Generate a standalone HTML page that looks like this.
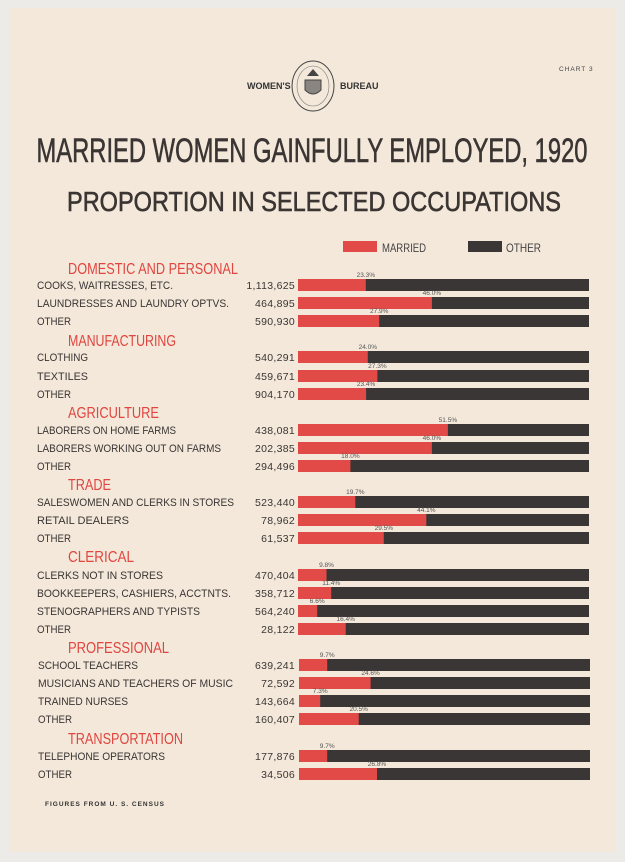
<!DOCTYPE html>
<html><head><meta charset="utf-8"><style>
html,body{margin:0;padding:0;background:#eceae6;}
svg{display:block}
text{font-family:"Liberation Sans Narrow","Liberation Sans",sans-serif;}
.l{font-size:11px;fill:#3a3533}
.n{font-size:10.5px;fill:#3a3533;text-anchor:end;letter-spacing:0.3px}
.h{font-size:16px;fill:#e0453f}
.p{font-size:6.5px;fill:#555;text-anchor:middle}
.d{fill:#3a3636}
.r{fill:#e24a48}
</style></head><body>
<svg width="625" height="862" viewBox="0 0 625 862" xmlns="http://www.w3.org/2000/svg">
<rect x="0" y="0" width="625" height="862" fill="#ecebe7"/>
<rect x="9" y="8" width="606" height="844" fill="#f3e8da"/>
<text x="559" y="71" font-size="6.5" fill="#444" font-family="Liberation Sans" letter-spacing="1">CHART 3</text>
<text x="247" y="89" font-size="9" font-weight="bold" fill="#333" font-family="Liberation Serif">WOMEN'S</text>
<text x="340" y="89" font-size="9" font-weight="bold" fill="#333" font-family="Liberation Serif">BUREAU</text>
<ellipse cx="313" cy="86" rx="21" ry="25" fill="none" stroke="#444" stroke-width="1"/>
<ellipse cx="313" cy="86" rx="16" ry="20" fill="none" stroke="#777" stroke-width="0.6"/>
<path d="M305 80 h16 v10 q-8 8 -16 0z" fill="#8a8580" stroke="#444" stroke-width="1"/>
<path d="M307 76 l6 -7 l6 7z" fill="#444"/>
<text x="312" y="162" text-anchor="middle" font-size="34" fill="#3a3533" stroke="#3a3533" stroke-width="0.6" textLength="551" lengthAdjust="spacingAndGlyphs">MARRIED WOMEN GAINFULLY EMPLOYED, 1920</text>
<text x="314" y="211" text-anchor="middle" font-size="28" fill="#3a3533" stroke="#3a3533" stroke-width="0.6" textLength="494" lengthAdjust="spacingAndGlyphs">PROPORTION IN SELECTED OCCUPATIONS</text>
<rect x="343" y="241" width="34" height="11" class="r"/>
<text x="382" y="252" font-size="12" fill="#444" textLength="44" lengthAdjust="spacingAndGlyphs">MARRIED</text>
<rect x="468" y="241" width="34" height="11" class="d"/>
<text x="506" y="252" font-size="12" fill="#444" textLength="35" lengthAdjust="spacingAndGlyphs">OTHER</text>

<text x="68" y="274" class="h" textLength="170" lengthAdjust="spacingAndGlyphs">DOMESTIC AND PERSONAL</text>
<text x="37" y="289" class="l" textLength="136" lengthAdjust="spacingAndGlyphs">COOKS, WAITRESSES, ETC.</text><text x="295" y="289" class="n">1,113,625</text>
<rect x="298" y="279" width="291" height="12" class="d"/><rect x="298" y="279" width="67.8" height="12" class="r"/><text x="365.8" y="277" class="p">23.3%</text>
<text x="37" y="307" class="l" textLength="192" lengthAdjust="spacingAndGlyphs">LAUNDRESSES AND LAUNDRY OPTVS.</text><text x="295" y="307" class="n">464,895</text>
<rect x="298" y="297" width="291" height="12" class="d"/><rect x="298" y="297" width="133.9" height="12" class="r"/><text x="431.9" y="295" class="p">46.0%</text>
<text x="37" y="325" class="l" textLength="34" lengthAdjust="spacingAndGlyphs">OTHER</text><text x="295" y="325" class="n">590,930</text>
<rect x="298" y="315" width="291" height="12" class="d"/><rect x="298" y="315" width="81.2" height="12" class="r"/><text x="379.2" y="313" class="p">27.9%</text>

<text x="68" y="346" class="h" textLength="108" lengthAdjust="spacingAndGlyphs">MANUFACTURING</text>
<text x="37" y="361" class="l" textLength="51" lengthAdjust="spacingAndGlyphs">CLOTHING</text><text x="295" y="361" class="n">540,291</text>
<rect x="298" y="351" width="291" height="12" class="d"/><rect x="298" y="351" width="69.8" height="12" class="r"/><text x="367.8" y="349" class="p">24.0%</text>
<text x="37" y="380" class="l" textLength="51" lengthAdjust="spacingAndGlyphs">TEXTILES</text><text x="295" y="380" class="n">459,671</text>
<rect x="298" y="370" width="291" height="12" class="d"/><rect x="298" y="370" width="79.4" height="12" class="r"/><text x="377.4" y="368" class="p">27.3%</text>
<text x="37" y="398" class="l" textLength="34" lengthAdjust="spacingAndGlyphs">OTHER</text><text x="295" y="398" class="n">904,170</text>
<rect x="298" y="388" width="291" height="12" class="d"/><rect x="298" y="388" width="68.1" height="12" class="r"/><text x="366.1" y="386" class="p">23.4%</text>

<text x="68" y="418" class="h" textLength="91" lengthAdjust="spacingAndGlyphs">AGRICULTURE</text>
<text x="37" y="434" class="l" textLength="139" lengthAdjust="spacingAndGlyphs">LABORERS ON HOME FARMS</text><text x="295" y="434" class="n">438,081</text>
<rect x="298" y="424" width="291" height="12" class="d"/><rect x="298" y="424" width="149.9" height="12" class="r"/><text x="447.9" y="422" class="p">51.5%</text>
<text x="37" y="452" class="l" textLength="184" lengthAdjust="spacingAndGlyphs">LABORERS WORKING OUT ON FARMS</text><text x="295" y="452" class="n">202,385</text>
<rect x="298" y="442" width="291" height="12" class="d"/><rect x="298" y="442" width="133.9" height="12" class="r"/><text x="431.9" y="440" class="p">46.0%</text>
<text x="37" y="470" class="l" textLength="34" lengthAdjust="spacingAndGlyphs">OTHER</text><text x="295" y="470" class="n">294,496</text>
<rect x="298" y="460" width="291" height="12" class="d"/><rect x="298" y="460" width="52.4" height="12" class="r"/><text x="350.4" y="458" class="p">18.0%</text>

<text x="68" y="490" class="h" textLength="43" lengthAdjust="spacingAndGlyphs">TRADE</text>
<text x="37" y="506" class="l" textLength="197" lengthAdjust="spacingAndGlyphs">SALESWOMEN AND CLERKS IN STORES</text><text x="295" y="506" class="n">523,440</text>
<rect x="298" y="496" width="291" height="12" class="d"/><rect x="298" y="496" width="57.3" height="12" class="r"/><text x="355.3" y="494" class="p">19.7%</text>
<text x="37" y="524" class="l" textLength="92" lengthAdjust="spacingAndGlyphs">RETAIL DEALERS</text><text x="295" y="524" class="n">78,962</text>
<rect x="298" y="514" width="291" height="12" class="d"/><rect x="298" y="514" width="128.3" height="12" class="r"/><text x="426.3" y="512" class="p">44.1%</text>
<text x="37" y="542" class="l" textLength="34" lengthAdjust="spacingAndGlyphs">OTHER</text><text x="295" y="542" class="n">61,537</text>
<rect x="298" y="532" width="291" height="12" class="d"/><rect x="298" y="532" width="85.8" height="12" class="r"/><text x="383.8" y="530" class="p">29.5%</text>

<text x="68" y="562" class="h" textLength="66" lengthAdjust="spacingAndGlyphs">CLERICAL</text>
<text x="37" y="579" class="l" textLength="126" lengthAdjust="spacingAndGlyphs">CLERKS NOT IN STORES</text><text x="295" y="579" class="n">470,404</text>
<rect x="298" y="569" width="291" height="12" class="d"/><rect x="298" y="569" width="28.5" height="12" class="r"/><text x="326.5" y="567" class="p">9.8%</text>
<text x="37" y="597" class="l" textLength="194" lengthAdjust="spacingAndGlyphs">BOOKKEEPERS, CASHIERS, ACCTNTS.</text><text x="295" y="597" class="n">358,712</text>
<rect x="298" y="587" width="291" height="12" class="d"/><rect x="298" y="587" width="33.2" height="12" class="r"/><text x="331.2" y="585" class="p">11.4%</text>
<text x="37" y="615" class="l" textLength="163" lengthAdjust="spacingAndGlyphs">STENOGRAPHERS AND TYPISTS</text><text x="295" y="615" class="n">564,240</text>
<rect x="298" y="605" width="291" height="12" class="d"/><rect x="298" y="605" width="19.2" height="12" class="r"/><text x="317.2" y="603" class="p">6.6%</text>
<text x="37" y="633" class="l" textLength="34" lengthAdjust="spacingAndGlyphs">OTHER</text><text x="295" y="633" class="n">28,122</text>
<rect x="298" y="623" width="291" height="12" class="d"/><rect x="298" y="623" width="47.7" height="12" class="r"/><text x="345.7" y="621" class="p">16.4%</text>

<text x="68" y="653" class="h" textLength="101" lengthAdjust="spacingAndGlyphs">PROFESSIONAL</text>
<text x="38" y="669" class="l" textLength="100" lengthAdjust="spacingAndGlyphs">SCHOOL TEACHERS</text><text x="295" y="669" class="n">639,241</text>
<rect x="299" y="659" width="291" height="12" class="d"/><rect x="299" y="659" width="28.2" height="12" class="r"/><text x="327.2" y="657" class="p">9.7%</text>
<text x="38" y="687" class="l" textLength="195" lengthAdjust="spacingAndGlyphs">MUSICIANS AND TEACHERS OF MUSIC</text><text x="295" y="687" class="n">72,592</text>
<rect x="299" y="677" width="291" height="12" class="d"/><rect x="299" y="677" width="71.6" height="12" class="r"/><text x="370.6" y="675" class="p">24.6%</text>
<text x="38" y="705" class="l" textLength="90" lengthAdjust="spacingAndGlyphs">TRAINED NURSES</text><text x="295" y="705" class="n">143,664</text>
<rect x="299" y="695" width="291" height="12" class="d"/><rect x="299" y="695" width="21.2" height="12" class="r"/><text x="320.2" y="693" class="p">7.3%</text>
<text x="38" y="723" class="l" textLength="34" lengthAdjust="spacingAndGlyphs">OTHER</text><text x="295" y="723" class="n">160,407</text>
<rect x="299" y="713" width="291" height="12" class="d"/><rect x="299" y="713" width="59.7" height="12" class="r"/><text x="358.7" y="711" class="p">20.5%</text>

<text x="68" y="744" class="h" textLength="115" lengthAdjust="spacingAndGlyphs">TRANSPORTATION</text>
<text x="38" y="760" class="l" textLength="127" lengthAdjust="spacingAndGlyphs">TELEPHONE OPERATORS</text><text x="295" y="760" class="n">177,876</text>
<rect x="299" y="750" width="291" height="12" class="d"/><rect x="299" y="750" width="28.2" height="12" class="r"/><text x="327.2" y="748" class="p">9.7%</text>
<text x="38" y="778" class="l" textLength="34" lengthAdjust="spacingAndGlyphs">OTHER</text><text x="295" y="778" class="n">34,506</text>
<rect x="299" y="768" width="291" height="12" class="d"/><rect x="299" y="768" width="78.0" height="12" class="r"/><text x="377" y="766" class="p">26.8%</text>

<text x="45" y="806" font-size="6.5" fill="#333" font-family="Liberation Sans" font-weight="bold" letter-spacing="1">FIGURES FROM U. S. CENSUS</text>
</svg>
</body></html>
